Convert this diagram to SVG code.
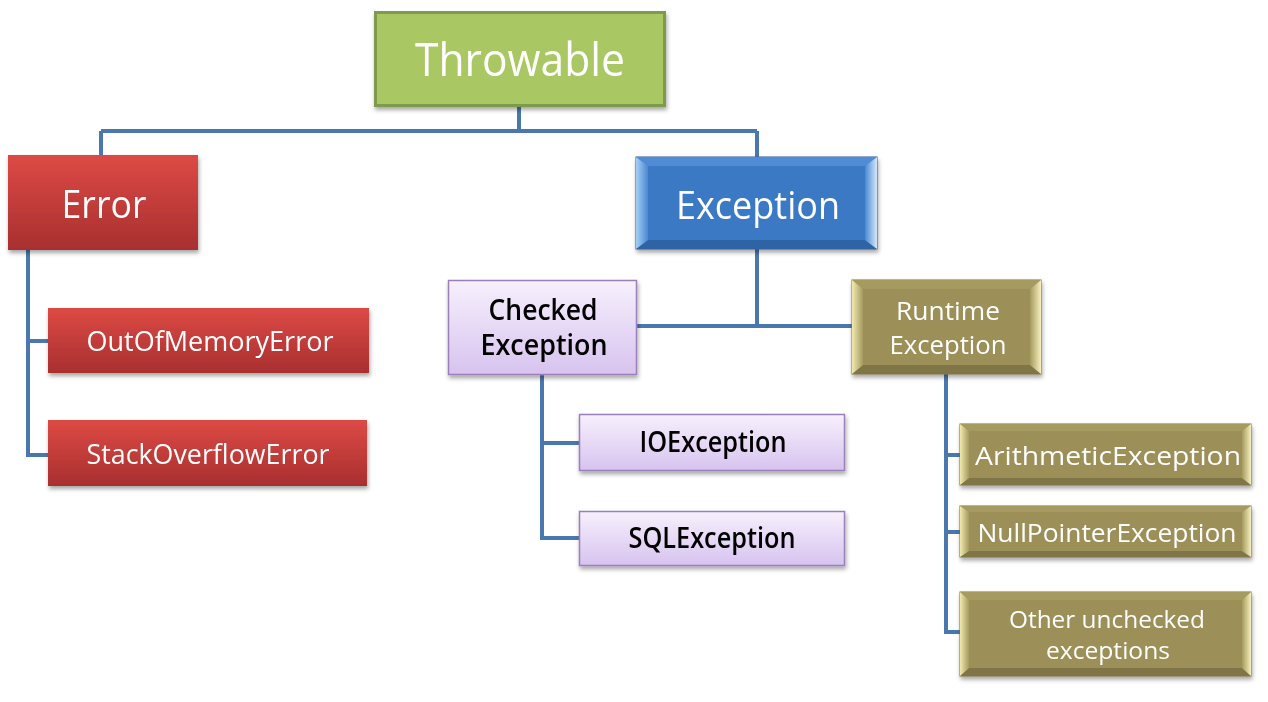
<svg xmlns="http://www.w3.org/2000/svg" width="1268" height="702" viewBox="0 0 1268 702">
<defs>
<style>
.t{font-family:"Open Sans","Noto Sans","Liberation Sans",sans-serif;text-anchor:middle;fill:#fff}
.d{fill:#000;font-weight:600}
.c{fill:none;stroke:#4a77ae;stroke-width:4}
</style>
<filter id="sh" x="-10%" y="-10%" width="125%" height="140%">
<feDropShadow dx="1" dy="3" stdDeviation="2" flood-color="#000" flood-opacity="0.35"/>
</filter>
<linearGradient id="red" x1="0" y1="0" x2="0" y2="1"><stop offset="0" stop-color="#dd4a45"/><stop offset="1" stop-color="#a82f2f"/></linearGradient>
<linearGradient id="lav" x1="0" y1="0" x2="0" y2="1"><stop offset="0" stop-color="#f7f0fd"/><stop offset="1" stop-color="#d7c3ef"/></linearGradient>
<linearGradient id="bl" x1="0" y1="0" x2="1" y2="0"><stop offset="0" stop-color="#a6d0f4"/><stop offset="1" stop-color="#4a88d2"/></linearGradient>
<linearGradient id="br" x1="0" y1="0" x2="1" y2="0"><stop offset="0" stop-color="#4a88d2"/><stop offset="1" stop-color="#d4e8fa"/></linearGradient>
<linearGradient id="ol" x1="0" y1="0" x2="1" y2="0"><stop offset="0" stop-color="#f2eab0"/><stop offset="1" stop-color="#a59a5e"/></linearGradient>
<linearGradient id="or" x1="0" y1="0" x2="1" y2="0"><stop offset="0" stop-color="#a59a5e"/><stop offset="1" stop-color="#f6f0bf"/></linearGradient>
</defs>
<rect width="1268" height="702" fill="#fff"/>
<g id="connectors">
<path class="c" d="M519 107V131M101 131H757M101 131V155M757 131V157"/>
<path class="c" d="M28 250V455M26 341H48M26 455H48"/>
<path class="c" d="M757 249V326M637 326H852"/>
<path class="c" d="M542 375V538M540 443H579M540 538H579"/>
<path class="c" d="M946 374V632M944 455H960M944 532H960M944 632H960"/>
</g>
<g id="throwable" filter="url(#sh)">
<rect x="375.5" y="12.5" width="289" height="93" fill="#a9c764" stroke="#7e9a4d" stroke-width="3"/>
<text class="t" x="520" y="76" font-size="45" textLength="210" lengthAdjust="spacingAndGlyphs">Throwable</text>
</g>
<g id="error" filter="url(#sh)">
<rect x="8" y="155" width="190" height="95" fill="url(#red)"/>
<text class="t" x="104" y="218" font-size="38" textLength="85" lengthAdjust="spacingAndGlyphs">Error</text>
</g>
<g id="outofmemory" filter="url(#sh)">
<rect x="48" y="308" width="321" height="65" fill="url(#red)"/>
<text class="t" x="210" y="351" font-size="27" textLength="247" lengthAdjust="spacingAndGlyphs">OutOfMemoryError</text>
</g>
<g id="stackoverflow" filter="url(#sh)">
<rect x="48" y="420" width="319" height="66" fill="url(#red)"/>
<text class="t" x="208" y="464" font-size="27" textLength="243" lengthAdjust="spacingAndGlyphs">StackOverflowError</text>
</g>
<g id="exception" filter="url(#sh)">
<rect x="636" y="157" width="241" height="92" fill="#3b79c5" stroke="#2e5f9c" stroke-width="1"/>
<polygon points="636,157 877,157 865,166 648,166" fill="#4f8cd5"/>
<polygon points="636,249 877,249 865,240 648,240" fill="#2f64a6"/>
<polygon points="636,157 648,166 648,240 636,249" fill="url(#bl)"/>
<polygon points="877,157 865,166 865,240 877,249" fill="url(#br)"/>
<text class="t" x="758" y="219" font-size="38" textLength="164" lengthAdjust="spacingAndGlyphs">Exception</text>
</g>
<g id="checked" filter="url(#sh)">
<rect x="448.5" y="280.5" width="188" height="94" fill="url(#lav)" stroke="#9a7fba" stroke-width="1.5"/>
<text class="t d" x="543" y="320" font-size="28" textLength="109" lengthAdjust="spacingAndGlyphs">Checked</text>
<text class="t d" x="544" y="355" font-size="28" textLength="127" lengthAdjust="spacingAndGlyphs">Exception</text>
</g>
<g id="ioexception" filter="url(#sh)">
<rect x="579.5" y="414.5" width="265" height="56" fill="url(#lav)" stroke="#9a7fba" stroke-width="1.5"/>
<text class="t d" x="713" y="452" font-size="28" textLength="147" lengthAdjust="spacingAndGlyphs">IOException</text>
</g>
<g id="sqlexception" filter="url(#sh)">
<rect x="579.5" y="511.5" width="265" height="54" fill="url(#lav)" stroke="#9a7fba" stroke-width="1.5"/>
<text class="t d" x="712" y="548" font-size="28" textLength="167" lengthAdjust="spacingAndGlyphs">SQLException</text>
</g>
<g id="runtime" filter="url(#sh)">
<rect x="852" y="280" width="189" height="94" fill="#9c9058" stroke="#7d7344" stroke-width="1"/>
<polygon points="852,280 1041,280 1030,289 863,289" fill="#a59a60"/>
<polygon points="852,374 1041,374 1030,365 863,365" fill="#7f7547"/>
<polygon points="852,280 863,289 863,365 852,374" fill="url(#ol)"/>
<polygon points="1041,280 1030,289 1030,365 1041,374" fill="url(#or)"/>
<text class="t" x="948" y="320" font-size="26" textLength="104" lengthAdjust="spacingAndGlyphs">Runtime</text>
<text class="t" x="948" y="354" font-size="26" textLength="117" lengthAdjust="spacingAndGlyphs">Exception</text>
</g>
<g id="arithmetic" filter="url(#sh)">
<rect x="960" y="424" width="291" height="61" fill="#9c9058" stroke="#7d7344" stroke-width="1"/>
<polygon points="960,424 1251,424 1242,431 969,431" fill="#a59a60"/>
<polygon points="960,485 1251,485 1242,478 969,478" fill="#7f7547"/>
<polygon points="960,424 969,431 969,478 960,485" fill="url(#ol)"/>
<polygon points="1251,424 1242,431 1242,478 1251,485" fill="url(#or)"/>
<text class="t" x="1108" y="465" font-size="26" textLength="266" lengthAdjust="spacingAndGlyphs">ArithmeticException</text>
</g>
<g id="nullpointer" filter="url(#sh)">
<rect x="960" y="506" width="291" height="51" fill="#9c9058" stroke="#7d7344" stroke-width="1"/>
<polygon points="960,506 1251,506 1242,512 969,512" fill="#a59a60"/>
<polygon points="960,557 1251,557 1242,551 969,551" fill="#7f7547"/>
<polygon points="960,506 969,512 969,551 960,557" fill="url(#ol)"/>
<polygon points="1251,506 1242,512 1242,551 1251,557" fill="url(#or)"/>
<text class="t" x="1107" y="542" font-size="26" textLength="259" lengthAdjust="spacingAndGlyphs">NullPointerException</text>
</g>
<g id="other" filter="url(#sh)">
<rect x="960" y="592" width="291" height="84" fill="#9c9058" stroke="#7d7344" stroke-width="1"/>
<polygon points="960,592 1251,592 1242,600 969,600" fill="#a59a60"/>
<polygon points="960,676 1251,676 1242,668 969,668" fill="#7f7547"/>
<polygon points="960,592 969,600 969,668 960,676" fill="url(#ol)"/>
<polygon points="1251,592 1242,600 1242,668 1251,676" fill="url(#or)"/>
<text class="t" x="1107" y="628" font-size="23" textLength="196" lengthAdjust="spacingAndGlyphs">Other unchecked</text>
<text class="t" x="1108" y="659" font-size="23" textLength="124" lengthAdjust="spacingAndGlyphs">exceptions</text>
</g>
</svg>
